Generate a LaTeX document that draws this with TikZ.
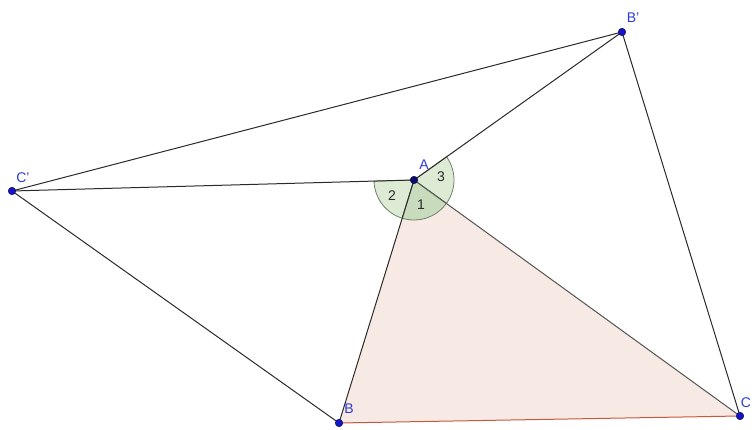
\documentclass[tikz,border=0pt]{standalone}
\usepackage{fontspec}
\setmainfont{Liberation Sans}
\usetikzlibrary{positioning}
\definecolor{ink}{HTML}{2A2A2A}
\definecolor{trifill}{HTML}{F7EAE4}
\definecolor{bcline}{HTML}{C8583E}
\definecolor{acline}{HTML}{555555}
\definecolor{secfill}{HTML}{DDEBD5}
\definecolor{secdark}{HTML}{C8DBBC}
\definecolor{secline}{HTML}{6F8069}
\definecolor{ptfill}{HTML}{1414C8}
\definecolor{ptline}{HTML}{0A0A50}
\definecolor{labelc}{HTML}{2B3BDA}

\begin{document}
\begin{tikzpicture}[x=1pt,y=1pt,
  font=\fontsize{14}{16}\selectfont,
  seg/.style={draw=ink,line width=1pt},
  pt/.style={circle,fill=ptfill,draw=ptline,line width=0.5pt,inner sep=0pt,minimum size=7.5pt},
  plabel/.style={text=labelc,inner sep=1pt},
  anglesec/.style={fill=secfill,draw=secline,line width=0.8pt},
  anum/.style={text=ink,inner sep=0pt},
]
\useasboundingbox (0,0) rectangle (752,430);

% ===================== POINTS =====================
\coordinate (A) at (414,250);
\coordinate (B) at (339,7);
\coordinate (C) at (740,14);
\coordinate (Bp) at (622,398);
\coordinate (Cp) at (12,239);

% ===================== TRIANGLE ABC =====================
\fill[trifill] (A) -- (B) -- (C) -- cycle;

% ===================== ANGLES AT A =====================
\draw[anglesec] (A) -- ++(181.6:40) arc[start angle=181.6,end angle=252.85,radius=40] -- cycle;
\draw[anglesec] (A) -- ++(-35.9:40) arc[start angle=-35.9,end angle=35.4,radius=40] -- cycle;
\draw[anglesec,fill=secdark] (A) -- ++(-107.15:40) arc[start angle=-107.15,end angle=-35.9,radius=40] -- cycle;

% ===================== SEGMENTS =====================
\draw[seg] (Cp) -- (Bp) (Bp) -- (C) (Cp) -- (B);
\draw[seg] (A) -- (Bp) (A) -- (Cp) (A) -- (B);
\draw[seg,draw=acline] (A) -- (C);
\draw[seg,draw=bcline] (B) -- (C);

% ===================== DOTS AND LABELS =====================
\foreach \p in {B,C,Bp,Cp}{\node[pt] (d\p) at (\p){};}
\node[pt,fill=ptline!80!ptfill] (dA) at (A){};

\node[plabel] (lA) at (424,265) {A};
\node[plabel] (lB) at (349,21) {B};
\node[plabel] (lC) at (746,27) {C};
\node[plabel] (lBp) at (633,412) {B'};
\node[plabel] (lCp) at (23,252) {C'};

\node[anum] (n1) at (421,225) {1};
\node[anum] (n2) at (392,234) {2};
\node[anum] (n3) at (441,253) {3};

\end{tikzpicture}
\end{document}
